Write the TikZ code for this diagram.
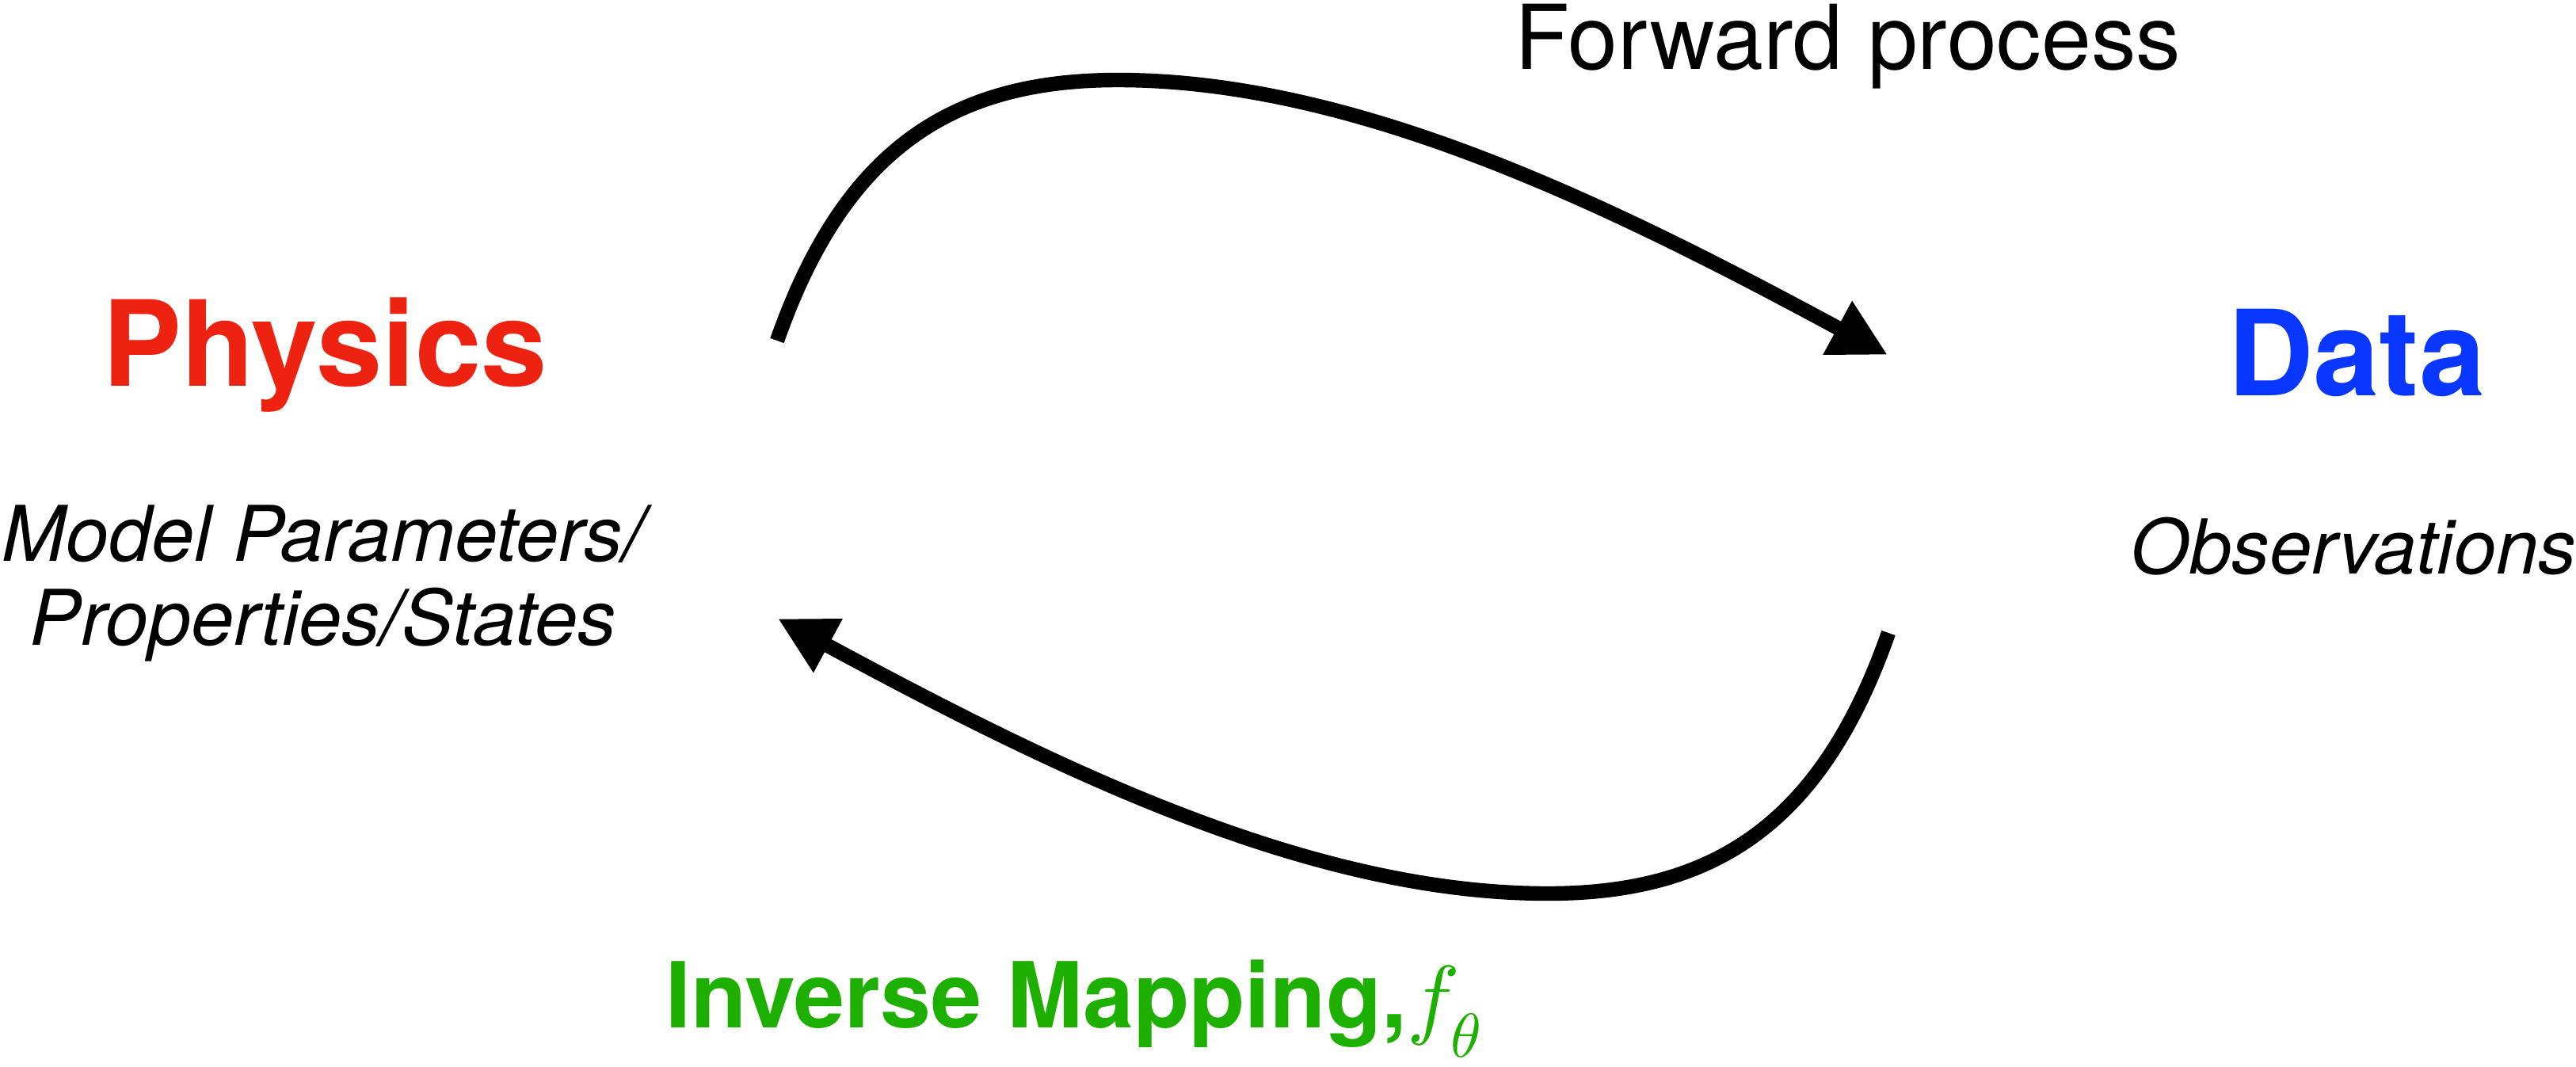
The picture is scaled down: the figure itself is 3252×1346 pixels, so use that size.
\documentclass[tikz,border=0pt]{standalone}
\usepackage{fontspec}
\setmainfont{TeX Gyre Heros}
\DeclareFontFamily{OML}{cmm}{\skewchar\font'177}
\DeclareFontShape{OML}{cmm}{m}{it}{<->cmmi10}{}
\usetikzlibrary{arrows.meta}
\definecolor{physred}{RGB}{238,34,17}
\definecolor{datablue}{RGB}{10,55,255}
\definecolor{invgreen}{RGB}{30,176,0}
\begin{document}
\begin{tikzpicture}[x=0.5pt,y=-0.5pt,
  flow/.style={line width=9.2pt,-{Triangle[length=36pt,width=36pt]}},
  headline/.style={inner sep=0pt,anchor=base,font=\fontsize{75}{80}\selectfont\bfseries},
  subline/.style={inner sep=0pt,anchor=base,font=\fontsize{48.5}{53}\selectfont\itshape},
  caption/.style={inner sep=0pt,anchor=base}]
\useasboundingbox (0,0) rectangle (3252,1346);
% texts
\node[headline,text=physred] (physics) at (410,487) {Physics};
\node[subline] (params1) at (408,708) {Model Parameters/};
\node[subline] (params2) at (408,814) {Properties/States};
\node[headline,text=datablue] (data) at (2975,499) {Data};
\node[subline,font=\fontsize{47.8}{53}\selectfont\itshape] (obs) at (2971,724) {Observations};
\node[caption,font=\fontsize{56.5}{60}\selectfont] (fwd) at (2333,87) {Forward process};
\node[caption,anchor=base west,text=invgreen,font=\fontsize{57.5}{64}\selectfont] (inv) at (840,1297)
  {\bfseries Inverse Mapping,{\fontsize{56}{62}\selectfont$f_\theta$}};
% connector ends
\coordinate (fwdstart) at (981,430);
\coordinate (fwdtop) at (1411,101);
\coordinate (fwdend) at (2383,448);
\coordinate (invstart) at (2384,799);
\coordinate (invbottom) at (1954,1128);
\coordinate (invend) at (982,781);
% connectors
\draw[flow] (fwdstart) .. controls (1065,190) and (1200,101) .. (fwdtop)
  .. controls (1711,101) and (2031,258) .. (fwdend);
\draw[flow] (invstart) .. controls (2300,1039) and (2165,1128) .. (invbottom)
  .. controls (1654,1128) and (1334,971) .. (invend);
\end{tikzpicture}
\end{document}
